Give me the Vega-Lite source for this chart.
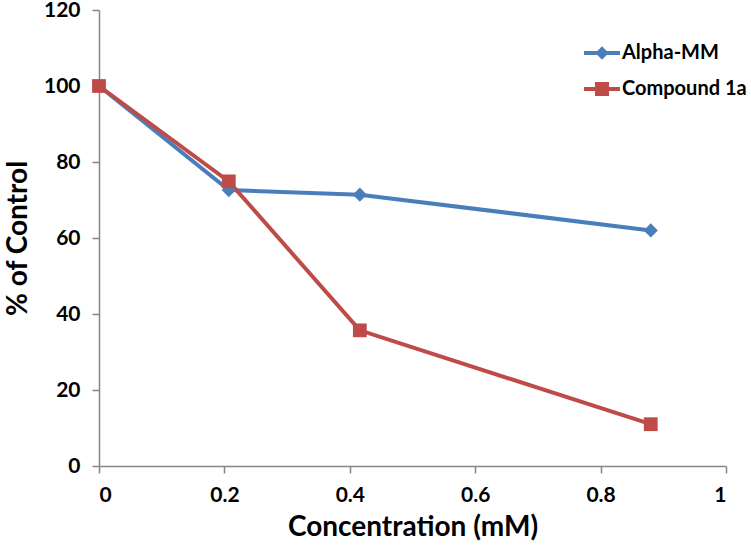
{
  "$schema": "https://vega.github.io/schema/vega-lite/v6.json",
  "width": 627,
  "height": 456,
  "autosize": {"type": "none"},
  "padding": {"left": 99, "top": 10, "right": 25, "bottom": 85},
  "background": "white",
  "config": {
    "view": {"stroke": null},
    "font": "Lato",
    "axis": {
      "grid": false,
      "domainColor": "#868686",
      "domainWidth": 1.5,
      "tickColor": "#868686",
      "tickWidth": 1.5,
      "tickSize": 7,
      "labelFont": "Lato",
      "labelFontWeight": "bold",
      "labelFontSize": 21,
      "labelColor": "#000000",
      "titleFont": "Lato",
      "titleFontWeight": "bold",
      "titleFontSize": 28,
      "titleColor": "#000000"
    }
  },
  "data": {
    "values": [
      {"conc": 0, "pct": 100, "series": "Alpha-MM"},
      {"conc": 0.207, "pct": 72.6, "series": "Alpha-MM"},
      {"conc": 0.416, "pct": 71.4, "series": "Alpha-MM"},
      {"conc": 0.88, "pct": 62.0, "series": "Alpha-MM"},
      {"conc": 0, "pct": 100, "series": "Compound 1a"},
      {"conc": 0.207, "pct": 74.9, "series": "Compound 1a"},
      {"conc": 0.416, "pct": 35.7, "series": "Compound 1a"},
      {"conc": 0.88, "pct": 11.0, "series": "Compound 1a"}
    ]
  },
  "encoding": {
    "x": {
      "field": "conc",
      "type": "quantitative",
      "scale": {"domain": [0, 1], "nice": false, "zero": true},
      "axis": {
        "values": [0, 0.2, 0.4, 0.6, 0.8, 1],
        "format": "~g",
        "title": "Concentration (mM)",
        "labelPadding": 11,
        "titlePadding": 8
      }
    },
    "y": {
      "field": "pct",
      "type": "quantitative",
      "scale": {"domain": [0, 120], "nice": false},
      "axis": {
        "values": [0, 20, 40, 60, 80, 100, 120],
        "title": "% of Control",
        "labelPadding": 12,
        "titlePadding": 11
      }
    },
    "color": {
      "field": "series",
      "type": "nominal",
      "scale": {"domain": ["Alpha-MM", "Compound 1a"], "range": ["#4A7EBB", "#BE4B48"]},
      "legend": {
        "title": null,
        "orient": "none",
        "legendX": 485,
        "legendY": 25,
        "padding": 0,
        "rowPadding": 8,
        "symbolSize": 1296,
        "symbolStrokeWidth": 0,
        "labelFont": "Lato",
        "labelFontWeight": "bold",
        "labelFontSize": 20,
        "labelColor": "#000000",
        "labelOffset": 2,
        "labelLimit": 300,
        "encode": {
          "symbols": {
            "update": {
              "shape": {"signal": "datum.value === 'Alpha-MM' ? 'M-1,-0.11H1V0.11H-1Z M0,-0.37L0.37,0L0,0.37L-0.37,0Z' : 'M-1,-0.11H1V0.11H-1Z M-0.39,-0.39H0.39V0.39H-0.39Z'"},
              "fill": {"signal": "datum.value === 'Alpha-MM' ? '#4A7EBB' : '#BE4B48'"},
              "fillOpacity": {"value": 1},
              "size": {"value": 1296},
              "strokeWidth": {"value": 0},
              "opacity": {"value": 1}
            }
          }
        }
      }
    }
  },
  "layer": [
    {
      "mark": {"type": "line", "strokeWidth": 4},
      "encoding": {"detail": {"field": "series"}}
    },
    {
      "transform": [{"filter": "datum.series === 'Alpha-MM'"}],
      "mark": {"type": "point", "filled": true, "opacity": 1, "shape": "diamond", "size": 200}
    },
    {
      "transform": [{"filter": "datum.series === 'Compound 1a'"}],
      "mark": {"type": "point", "filled": true, "opacity": 1, "shape": "square", "size": 190}
    }
  ]
}
